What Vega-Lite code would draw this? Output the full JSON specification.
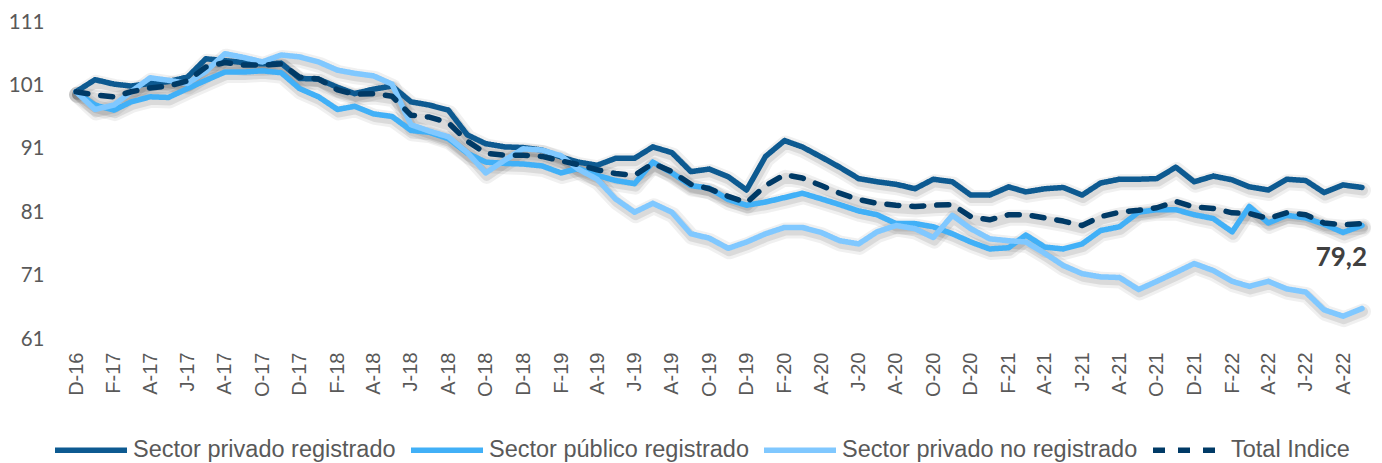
{
  "$schema": "https://vega.github.io/schema/vega-lite/v6.json",
  "autosize": {"type": "none"},
  "width": 1286,
  "height": 317,
  "padding": {"left": 76, "top": 22, "right": 20, "bottom": 124},
  "background": "#ffffff",
  "config": {"view": {"stroke": null}},
  "data": {"values": [
    {"mes":"2016-12-01","s1":100.0,"s2":100.0,"s3":100.0,"s4":100.0},
    {"mes":"2017-01-01","s1":101.9,"s2":97.9,"s3":97.2,"s4":99.5},
    {"mes":"2017-02-01","s1":101.2,"s2":97.1,"s3":97.9,"s4":99.2},
    {"mes":"2017-03-01","s1":100.9,"s2":98.4,"s3":100.0,"s4":100.0},
    {"mes":"2017-04-01","s1":101.3,"s2":99.2,"s3":102.2,"s4":100.6},
    {"mes":"2017-05-01","s1":101.6,"s2":99.1,"s3":101.8,"s4":100.9},
    {"mes":"2017-06-01","s1":102.3,"s2":100.5,"s3":101.3,"s4":101.7},
    {"mes":"2017-07-01","s1":105.2,"s2":101.8,"s3":103.2,"s4":103.9},
    {"mes":"2017-08-01","s1":104.9,"s2":103.1,"s3":106.0,"s4":104.6},
    {"mes":"2017-09-01","s1":104.6,"s2":103.1,"s3":105.4,"s4":104.2},
    {"mes":"2017-10-01","s1":104.4,"s2":103.3,"s3":104.7,"s4":104.2},
    {"mes":"2017-11-01","s1":104.5,"s2":103.0,"s3":105.8,"s4":104.4},
    {"mes":"2017-12-01","s1":102.1,"s2":100.5,"s3":105.5,"s4":102.3},
    {"mes":"2018-01-01","s1":102.0,"s2":99.2,"s3":104.7,"s4":102.0},
    {"mes":"2018-02-01","s1":100.7,"s2":97.2,"s3":103.4,"s4":100.3},
    {"mes":"2018-03-01","s1":99.7,"s2":97.7,"s3":102.9,"s4":99.6},
    {"mes":"2018-04-01","s1":100.4,"s2":96.5,"s3":102.5,"s4":99.7},
    {"mes":"2018-05-01","s1":100.9,"s2":96.1,"s3":101.2,"s4":99.3},
    {"mes":"2018-06-01","s1":98.4,"s2":93.9,"s3":94.8,"s4":96.3},
    {"mes":"2018-07-01","s1":97.9,"s2":93.6,"s3":93.8,"s4":96.0},
    {"mes":"2018-08-01","s1":97.1,"s2":92.6,"s3":92.9,"s4":95.1},
    {"mes":"2018-09-01","s1":93.2,"s2":90.3,"s3":90.4,"s4":92.2},
    {"mes":"2018-10-01","s1":91.8,"s2":88.9,"s3":87.2,"s4":90.3},
    {"mes":"2018-11-01","s1":91.3,"s2":88.7,"s3":89.2,"s4":90.0},
    {"mes":"2018-12-01","s1":91.2,"s2":88.6,"s3":91.0,"s4":90.0},
    {"mes":"2019-01-01","s1":90.8,"s2":88.3,"s3":90.8,"s4":89.8},
    {"mes":"2019-02-01","s1":89.7,"s2":87.2,"s3":89.9,"s4":89.1},
    {"mes":"2019-03-01","s1":88.9,"s2":87.9,"s3":87.8,"s4":88.5},
    {"mes":"2019-04-01","s1":88.4,"s2":86.8,"s3":86.2,"s4":87.7},
    {"mes":"2019-05-01","s1":89.5,"s2":86.0,"s3":83.1,"s4":87.1},
    {"mes":"2019-06-01","s1":89.5,"s2":85.5,"s3":81.0,"s4":86.8},
    {"mes":"2019-07-01","s1":91.3,"s2":88.9,"s3":82.4,"s4":88.7},
    {"mes":"2019-08-01","s1":90.4,"s2":87.2,"s3":81.0,"s4":87.4},
    {"mes":"2019-09-01","s1":87.4,"s2":85.2,"s3":77.6,"s4":85.4},
    {"mes":"2019-10-01","s1":87.8,"s2":84.8,"s3":76.9,"s4":84.7},
    {"mes":"2019-11-01","s1":86.6,"s2":83.0,"s3":75.3,"s4":83.5},
    {"mes":"2019-12-01","s1":84.5,"s2":82.1,"s3":76.3,"s4":82.5},
    {"mes":"2020-01-01","s1":89.8,"s2":82.6,"s3":77.6,"s4":85.2},
    {"mes":"2020-02-01","s1":92.3,"s2":83.3,"s3":78.6,"s4":86.9},
    {"mes":"2020-03-01","s1":91.3,"s2":84.0,"s3":78.6,"s4":86.4},
    {"mes":"2020-04-01","s1":89.7,"s2":83.1,"s3":77.8,"s4":85.2},
    {"mes":"2020-05-01","s1":88.1,"s2":82.2,"s3":76.5,"s4":84.0},
    {"mes":"2020-06-01","s1":86.3,"s2":81.2,"s3":76.0,"s4":83.0},
    {"mes":"2020-07-01","s1":85.8,"s2":80.6,"s3":77.9,"s4":82.4},
    {"mes":"2020-08-01","s1":85.4,"s2":79.2,"s3":78.9,"s4":82.1},
    {"mes":"2020-09-01","s1":84.7,"s2":79.2,"s3":78.4,"s4":81.9},
    {"mes":"2020-10-01","s1":86.2,"s2":78.7,"s3":77.0,"s4":82.1},
    {"mes":"2020-11-01","s1":85.8,"s2":77.6,"s3":80.5,"s4":82.2},
    {"mes":"2020-12-01","s1":83.7,"s2":76.3,"s3":78.4,"s4":80.3},
    {"mes":"2021-01-01","s1":83.7,"s2":75.2,"s3":76.8,"s4":79.8},
    {"mes":"2021-02-01","s1":85.0,"s2":75.4,"s3":76.5,"s4":80.6},
    {"mes":"2021-03-01","s1":84.2,"s2":77.4,"s3":76.3,"s4":80.6},
    {"mes":"2021-04-01","s1":84.7,"s2":75.5,"s3":74.5,"s4":80.1},
    {"mes":"2021-05-01","s1":84.9,"s2":75.2,"s3":72.6,"s4":79.6},
    {"mes":"2021-06-01","s1":83.7,"s2":76.0,"s3":71.3,"s4":78.9},
    {"mes":"2021-07-01","s1":85.6,"s2":78.1,"s3":70.8,"s4":80.3},
    {"mes":"2021-08-01","s1":86.2,"s2":78.7,"s3":70.7,"s4":81.0},
    {"mes":"2021-09-01","s1":86.2,"s2":81.0,"s3":68.8,"s4":81.3},
    {"mes":"2021-10-01","s1":86.3,"s2":81.4,"s3":70.1,"s4":81.7},
    {"mes":"2021-11-01","s1":88.1,"s2":81.4,"s3":71.5,"s4":82.7},
    {"mes":"2021-12-01","s1":85.8,"s2":80.6,"s3":72.9,"s4":81.8},
    {"mes":"2022-01-01","s1":86.7,"s2":80.0,"s3":71.8,"s4":81.6},
    {"mes":"2022-02-01","s1":86.1,"s2":77.9,"s3":70.1,"s4":80.9},
    {"mes":"2022-03-01","s1":85.0,"s2":81.9,"s3":69.3,"s4":80.8},
    {"mes":"2022-04-01","s1":84.5,"s2":79.3,"s3":70.1,"s4":80.0},
    {"mes":"2022-05-01","s1":86.2,"s2":80.5,"s3":68.9,"s4":80.9},
    {"mes":"2022-06-01","s1":86.0,"s2":80.1,"s3":68.4,"s4":80.6},
    {"mes":"2022-07-01","s1":84.1,"s2":79.1,"s3":65.6,"s4":79.3},
    {"mes":"2022-08-01","s1":85.3,"s2":77.8,"s3":64.6,"s4":79.0},
    {"mes":"2022-09-01","s1":84.9,"s2":78.9,"s3":65.8,"s4":79.2}
  ]},
  "transform": [{"fold": ["s1", "s2", "s3", "s4"], "as": ["k", "v"]}],
  "encoding": {
    "x": {
      "field": "mes", "type": "temporal",
      "scale": {"type": "utc", "nice": false},
      "axis": {
        "title": null, "domain": false, "ticks": false, "tickSize": 0, "grid": false,
        "labelAngle": -90, "labelFont": "Liberation Sans", "labelFontSize": 20,
        "labelColor": "#595959", "labelPadding": 13, "labelOverlap": false, "labelFlush": false,
        "tickCount": {"interval": "month", "step": 1},
        "labelExpr": "utcmonth(datum.value) % 2 == 1 ? ['E','F','M','A','M','J','J','A','S','O','N','D'][utcmonth(datum.value)] + '-' + utcFormat(datum.value, '%y') : ''"
      }
    },
    "y": {
      "field": "v", "type": "quantitative",
      "scale": {"domain": [61, 111], "nice": false, "zero": false},
      "axis": {
        "title": null, "domain": false, "ticks": false, "tickSize": 0, "grid": false,
        "values": [61, 71, 81, 91, 101, 111],
        "labelFont": "Lato", "labelFontSize": 20.5, "labelColor": "#595959", "labelPadding": 32
      }
    }
  },
  "layer": [
    {
      "mark": {"type": "line", "color": "#000000", "strokeWidth": 16, "opacity": 0.06, "yOffset": 3, "xOffset": 1, "strokeJoin": "round", "strokeCap": "round"},
      "encoding": {"detail": {"field": "k"}}
    },
    {
      "mark": {"type": "line", "color": "#000000", "strokeWidth": 10, "opacity": 0.09, "yOffset": 3, "xOffset": 1, "strokeJoin": "round", "strokeCap": "round"},
      "encoding": {"detail": {"field": "k"}}
    },
    {
      "mark": {"type": "line", "strokeWidth": 5.5, "strokeJoin": "round", "strokeCap": "round"},
      "encoding": {
        "color": {
          "field": "k", "type": "nominal",
          "scale": {"domain": ["s1", "s2", "s3", "s4"], "range": ["#0d5a91", "#41b0f7", "#80c8ff", "#003a66"]},
          "legend": {
            "title": null, "orient": "none", "legendX": -24, "legendY": 389, "direction": "horizontal",
            "symbolType": "stroke", "symbolSize": 5184, "symbolStrokeWidth": 5.5,
            "labelFont": "Liberation Sans", "labelFontSize": 23.5, "labelColor": "#595959",
            "labelOffset": 3, "columnPadding": 4, "padding": 0, "labelLimit": 400,
            "labelExpr": "datum.value == 's1' ? 'Sector privado registrado' : datum.value == 's2' ? 'Sector público registrado' : datum.value == 's3' ? 'Sector privado no registrado' : 'Total Indice'"
          }
        },
        "strokeDash": {
          "field": "k", "type": "nominal",
          "scale": {"domain": ["s1", "s2", "s3", "s4"], "range": [[1, 0], [1, 0], [1, 0], [12, 13]]},
          "legend": {
            "title": null, "orient": "none", "legendX": -24, "legendY": 389, "direction": "horizontal",
            "symbolType": "stroke", "symbolSize": 5184, "symbolStrokeWidth": 5.5,
            "labelFont": "Liberation Sans", "labelFontSize": 23.5, "labelColor": "#595959",
            "labelOffset": 3, "columnPadding": 4, "padding": 0, "labelLimit": 400,
            "labelExpr": "datum.value == 's1' ? 'Sector privado registrado' : datum.value == 's2' ? 'Sector público registrado' : datum.value == 's3' ? 'Sector privado no registrado' : 'Total Indice'"
          }
        }
      }
    },
    {
      "data": {"values": [{"mes": "2022-09-01", "v": 79.2, "t": "79,2"}]},
      "mark": {"type": "text", "align": "right", "baseline": "middle", "dx": 5, "dy": 34, "font": "Lato", "fontSize": 26, "fontWeight": "bold", "color": "#404040"},
      "encoding": {"text": {"field": "t"}}
    }
  ]
}
